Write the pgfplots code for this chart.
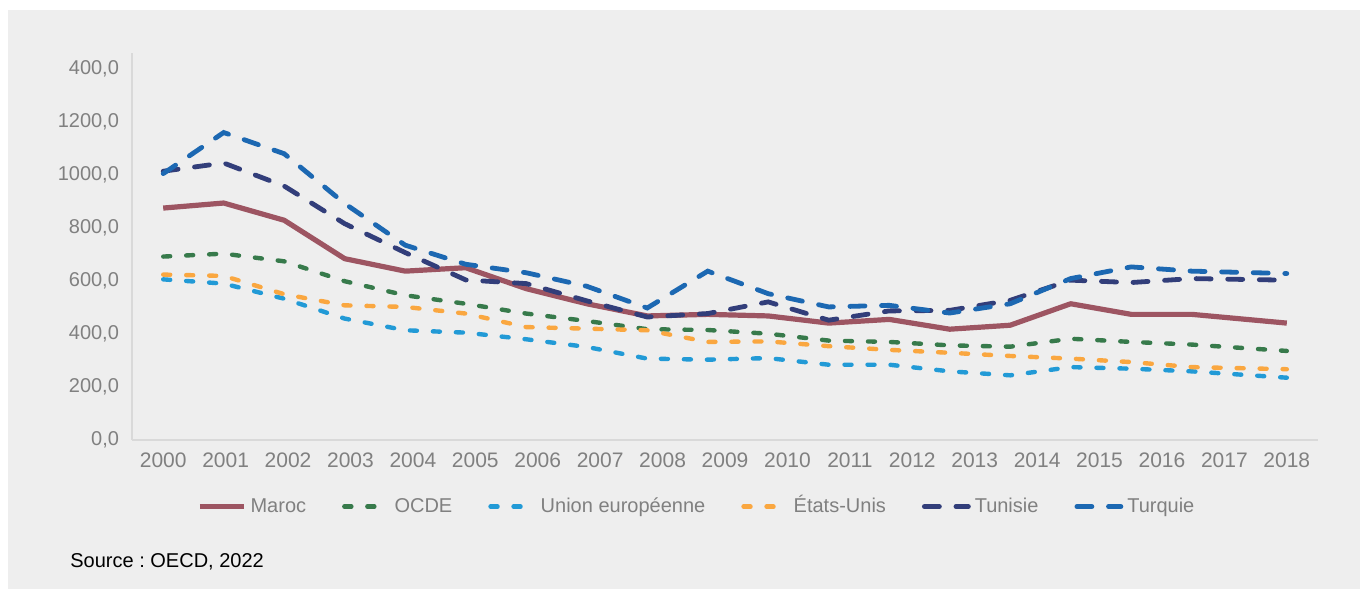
\documentclass[border=0pt]{standalone}
\usepackage{fontspec}
\setmainfont{Liberation Sans}
\usepackage{pgfplots}
\pgfplotsset{compat=1.18}
\frenchspacing
\definecolor{bg}{RGB}{238,238,238}
\definecolor{axisgray}{RGB}{217,217,217}
\definecolor{tickgray}{RGB}{128,128,128}
\definecolor{cmaroc}{RGB}{157,85,98}
\definecolor{cocde}{RGB}{55,122,75}
\definecolor{cue}{RGB}{34,154,214}
\definecolor{cus}{RGB}{250,167,64}
\definecolor{ctun}{RGB}{50,62,122}
\definecolor{ctur}{RGB}{28,104,178}
\begin{document}
\begin{tikzpicture}
\fill[white] (0,-20pt) rectangle (684pt,294pt);
\fill[bg] (4pt,-20pt) rectangle (680pt,289pt);
\begin{axis}[
  at={(66pt,74pt)}, anchor=south west,
  scale only axis, width=593pt, height=193.5pt,
  xmin=-0.5, xmax=18.5, ymin=0, ymax=1460,
  axis x line*=bottom, axis y line*=left,
  axis line style={draw=axisgray, line width=0.7pt},
  xtick={0,1,2,3,4,5,6,7,8,9,10,11,12,13,14,15,16,17,18},
  xticklabels={2000,2001,2002,2003,2004,2005,2006,2007,2008,2009,2010,2011,2012,2013,2014,2015,2016,2017,2018},
  ytick={0,200,400,600,800,1000,1200,1400},
  yticklabels={{0,0},{200,0},{400,0},{600,0},{800,0},{1000,0},{1200,0},{400,0}},
  major tick length=0pt,
  /pgf/number format/assume math mode=true,
  tick label style={font=\fontsize{10}{12}\selectfont, text=tickgray},
  xticklabel style={yshift=-3pt, font=\fontsize{10.5}{12}\selectfont},
  yticklabel style={xshift=-3pt},
  legend columns=6,
  legend cell align=left,
  legend style={at={(0.0548,-0.172)}, anchor=west, draw=none, fill=none,
    font=\fontsize{10}{12}\selectfont, text=tickgray, inner sep=0pt,
    cells={text height=7.5pt, text depth=2pt},
    /tikz/every even column/.append style={column sep=16pt}},
  legend image code/.code={\draw[#1] (0pt,0pt) -- (22pt,0pt);},
  dotted style/.style={line width=2.2pt, line cap=round, dash pattern=on 3.5pt off 8pt},
  long style/.style={line width=2.4pt, line cap=round, dash pattern=on 7.5pt off 8.3pt},
]
\addplot[cmaroc, line width=2.6pt, line join=round] coordinates {
(0,875)(0.969,894)(1.938,829)(2.908,684)(3.877,637)(4.846,650)(5.815,571)(6.785,514)(7.754,468)(8.723,474)(9.692,468)(10.661,441)(11.631,455)(12.600,418)(13.569,433)(14.538,514)(15.507,474)(16.477,474)(18,441)};
\addlegendentry{Maroc}
\addplot[cocde, dotted style] coordinates {
(0,692)(0.969,703)(1.938,674)(2.908,599)(3.877,546)(4.846,514)(5.815,477)(6.785,449)(7.754,418)(8.723,415)(9.692,401)(10.661,375)(11.631,370)(12.600,357)(13.569,352)(14.538,382)(15.507,370)(16.477,360)(18,336)};
\addlegendentry{OCDE}
\addplot[cue, dotted style] coordinates {
(0,606)(0.969,590)(1.938,533)(2.908,458)(3.877,414)(4.846,405)(5.815,380)(6.785,351)(7.754,307)(8.723,303)(9.692,309)(10.661,284)(11.631,284)(12.600,259)(13.569,244)(14.538,275)(15.507,269)(16.477,259)(18,235)};
\addlegendentry{Union européenne}
\addplot[cus, dotted style] coordinates {
(0,624)(0.969,619)(1.938,550)(2.908,508)(3.877,502)(4.846,477)(5.815,426)(6.785,420)(7.754,414)(8.723,370)(9.692,372)(10.661,354)(11.631,340)(12.600,329)(13.569,317)(14.538,307)(15.507,294)(16.477,275)(18,267)};
\addlegendentry{États-Unis}
\addplot[ctun, long style] coordinates {
(0,1014)(0.969,1045)(1.938,958)(2.908,816)(3.877,707)(4.846,604)(5.815,590)(6.785,525)(7.754,464)(8.723,477)(9.692,521)(10.661,452)(11.631,487)(12.600,489)(13.569,527)(14.538,603)(15.507,594)(16.477,609)(18,603)};
\addlegendentry{Tunisie}
\addplot[ctur, long style] coordinates {
(0,1005)(0.969,1160)(1.938,1080)(2.908,892)(3.877,735)(4.846,663)(5.815,631)(6.785,580)(7.754,498)(8.723,637)(9.692,552)(10.661,502)(11.631,508)(12.600,479)(13.569,514)(14.538,609)(15.507,653)(16.477,637)(18,628)};
\addlegendentry{Turquie}
\end{axis}
\node[anchor=west, font=\fontsize{10}{12}\selectfont, inner sep=0pt] at (35pt,13pt) {Source : OECD, 2022};
\pgfresetboundingbox
\useasboundingbox (0,0) rectangle (684pt,294pt);
\end{tikzpicture}
\end{document}
